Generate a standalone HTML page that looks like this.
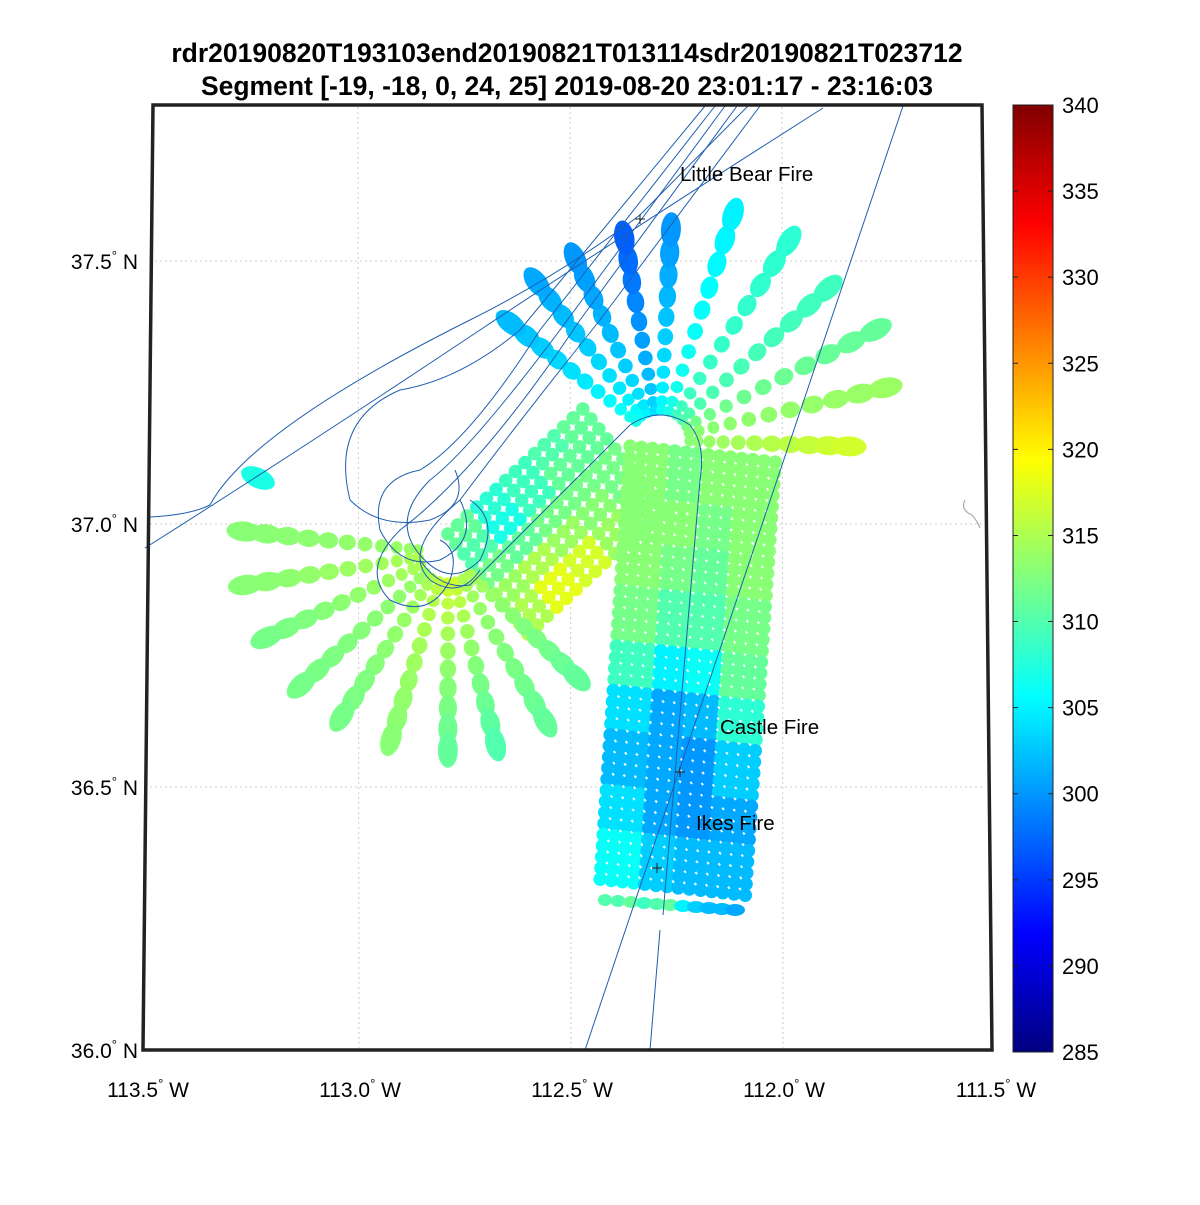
<!DOCTYPE html>
<html><head><meta charset="utf-8">
<style>
body{margin:0;background:#fff;font-family:"Liberation Sans",sans-serif;}
svg text{font-family:"Liberation Sans",sans-serif;}
</style></head>
<body>
<svg id="chart" width="1200" height="1200" viewBox="0 0 1200 1200" xmlns="http://www.w3.org/2000/svg">
<rect width="1200" height="1200" fill="#fff"/>
<text x="567" y="62" font-size="26.5" font-weight="bold" text-anchor="middle">rdr20190820T193103end20190821T013114sdr20190821T023712</text>
<text x="567" y="95" font-size="26.5" font-weight="bold" text-anchor="middle">Segment [-19, -18, 0, 24, 25] 2019-08-20 23:01:17 - 23:16:03</text>
<g id="grid"></g>
<g id="marks"></g>
<g id="tracks" fill="none" stroke="#1f5fae" stroke-width="1">
<path d="M823,108 Q 600,250 480,330 Q 300,450 145,548"/>
<path d="M748,106 L640,215 Q 560,275 470,320 Q 250,430 210,505 Q 190,515 150,517"/>
<path d="M705,106 L520,330 Q 460,380 400,390 Q 330,420 350,500 Q 380,530 430,520 Q 470,505 455,470"/>
<path d="M715,106 L540,330 Q 470,440 420,470 Q 370,480 380,530 Q 400,570 440,560 Q 480,540 460,500"/>
<path d="M725,106 L560,330 Q 470,450 430,480 Q 390,520 420,555 Q 450,590 480,560 Q 500,520 470,500"/>
<path d="M737,106 L580,320 Q 480,470 400,530 Q 360,570 390,600 Q 430,620 450,580 Q 460,550 440,540"/>
<path d="M760,106 L600,320 Q 520,420 460,500 Q 400,550 430,580 Q 460,600 480,570"/>
<path d="M420,560 Q 440,590 470,585 L630,425 Q 660,405 690,425 Q 706,445 700,480 L663,915"/>
<path d="M903,106 L585,1050"/>
<path d="M660,930 L650,1050"/>
</g>
<path d="M965,500 Q 960,510 972,515 Q 978,522 980,528" fill="none" stroke="#aaa" stroke-width="1.2"/>
<g stroke="#222" stroke-width="1">
<path d="M635,219h10M640,214v10"/>
<path d="M675,772h10M680,767v10"/>
<path d="M652,868h10M657,863v10"/>
</g>
<text x="680" y="181" font-size="20.5">Little Bear Fire</text>
<text x="720" y="734" font-size="20.5">Castle Fire</text>
<text x="696" y="830" font-size="20.5">Ikes Fire</text>
<polygon points="153,105 982,105 992,1050 143,1050" fill="none" stroke="#222" stroke-width="3.5"/>
<g id="axes"></g>
<defs><linearGradient id="jet" x1="0" y1="1" x2="0" y2="0">
<stop offset="0" stop-color="#000080"/><stop offset="0.125" stop-color="#0000ff"/><stop offset="0.375" stop-color="#00ffff"/><stop offset="0.625" stop-color="#ffff00"/><stop offset="0.875" stop-color="#ff0000"/><stop offset="1" stop-color="#800000"/>
</linearGradient></defs>
<rect x="1013" y="105" width="40" height="947" fill="url(#jet)" stroke="#222" stroke-width="1"/>
<g id="cbticks"></g>
</svg>
<script>
// ---- data ----
const latTicks = [36.0, 36.5, 37.0, 37.5];
const latLabels = ["36.0", "36.5", "37.0", "37.5"];
const lonTicks = [113.5, 113.0, 112.5, 112.0, 111.5];
const lonLabels = ["113.5", "113.0", "112.5", "112.0", "111.5"];
const cbTicks = [285, 290, 295, 300, 305, 310, 315, 320, 325, 330, 335, 340];
// fan scans: center lon/lat, ray angles (deg), ray lengths (deg lat), inner/outer temps
const fan1Center = [112.288, 37.160];
const fan1Angles = [142, 128, 115, 100, 87, 72, 57, 42, 27, 13, -2];
const fan1Lengths = [0.36, 0.38, 0.38, 0.39, 0.40, 0.45, 0.45, 0.43, 0.46, 0.44, 0.36];
const fan1Inner = [307, 306, 305, 304, 306, 307, 309, 310, 312, 313, 313];
const fan1Outer = [302, 301, 300, 297, 300, 305, 308, 309, 311, 314, 317];
const fan2Center = [112.788, 36.945];
const fan2Angles = [174, 189, 205, 222, 237, 253, 270, 284, 300, 316];
const fan2Lengths = [0.39, 0.39, 0.38, 0.375, 0.37, 0.37, 0.375, 0.375, 0.37, 0.34];
const fan2Inner = [314, 315, 315, 314, 315, 316, 317, 317, 315, 315];
const fan2Outer = [313, 313, 312, 312, 312, 313, 311, 310, 311, 311];
// grid scans (coarse temperature fields, rows x cols)
const grid1Temps = [
 [311,308,309,310,311],
 [310,307,309,311,311],
 [312,311,312,312,312],
 [314,315,314,313,312],
 [315,318,317,314,312]];
const grid2Temps = [
 [313,312,313,313],
 [313,313,312,313],
 [313,312,311,313],
 [312,310,310,312],
 [309,305,306,311],
 [304,301,302,308],
 [302,301,300,303],
 [304,301,300,301],
 [306,303,302,302]];
const bottomRowTemps = [310,310,311,309,310,311,305,303,302,302,301];
const isolatedTemp = [307];

// ---- scales ----
const X = lon => 570 + (112.5 - lon) * 424;
const Y = lat => 1050 - (lat - 36) * 526;
const PXDEG = 526;
function jet(t){
  const v = Math.max(0, Math.min(1, (t - 285) / 55));
  const c = x => Math.max(0, Math.min(1, 1.5 - Math.abs(4*v - x)));
  return `rgb(${Math.round(255*c(3))},${Math.round(255*c(2))},${Math.round(255*c(1))})`;
}
const NS = "http://www.w3.org/2000/svg";
const marks = document.getElementById('marks');
function ell(cx, cy, rx, ry, rot, temp, name){
  const e = document.createElementNS(NS, 'ellipse');
  e.setAttribute('cx', cx.toFixed(1)); e.setAttribute('cy', cy.toFixed(1));
  e.setAttribute('rx', rx.toFixed(1)); e.setAttribute('ry', ry.toFixed(1));
  e.setAttribute('transform', `rotate(${rot.toFixed(1)} ${cx.toFixed(1)} ${cy.toFixed(1)})`);
  e.setAttribute('fill', jet(temp));
  
  
  marks.appendChild(e);
}
// grids
function drawGrid(o, u, v, nu, nv, temps, r, name){
  const R = temps.length, C = temps[0].length;
  for (let j = 0; j < nv; j++) for (let i = 0; i < nu; i++){
    const a = i/(nu-1), b = j/(nv-1);
    const cx = o[0] + u[0]*a + v[0]*b, cy = o[1] + u[1]*a + v[1]*b;
    const t = temps[Math.min(R-1, Math.floor(b*R))][Math.min(C-1, Math.floor(a*C))];
    ell(cx, cy, r, r, 0, t, name);
  }
}
drawGrid([X(112.788), Y(36.981)], [135, -125], [80, 100], 15, 11, grid1Temps, 6.8, 'grid1-footprint');
drawGrid([X(112.358), Y(37.148)], [145, 16], [-30, 433], 14, 40, grid2Temps, 6.8, 'grid2-footprint');
bottomRowTemps.forEach((t, i) => {
  const a = i/(bottomRowTemps.length-1);
  ell(605 + 130*a, 900 + 10*a, 7 + 3*a, 6, 0, t, 'grid2-edge-footprint');
});
// fans
function drawFan(center, angles, lengths, inner, outer, name){
  const cx0 = X(center[0]), cy0 = Y(center[1]);
  angles.forEach((ang, k) => {
    const L = lengths[k] * PXDEG, rad = ang*Math.PI/180, n = 11;
    for (let s = 0; s < n; s++){
      const f = s/(n-1);
      const d = 30 + (L-30) * Math.pow(f, 1.3);
      const cx = cx0 + d*Math.cos(rad), cy = cy0 - d*Math.sin(rad);
      const t = inner[k] + (outer[k]-inner[k]) * f;
      ell(cx, cy, 5.5 + 12*f*f, 5.5 + 4.5*f, -ang, t, name);
    }
  });
}
drawFan(fan2Center, fan2Angles, fan2Lengths, fan2Inner, fan2Outer, 'fan2-footprint');
drawFan(fan1Center, fan1Angles, fan1Lengths, fan1Inner, fan1Outer, 'fan1-footprint');
ell(258, 478, 18, 10, 25, isolatedTemp[0], 'isolated-footprint');

// gridlines and axis labels
const grid = document.getElementById('grid'), axes = document.getElementById('axes');
latTicks.forEach((lat, i) => {
  if (i > 0){
    const l = document.createElementNS(NS, 'line');
    l.setAttribute('x1', 150); l.setAttribute('x2', 985);
    l.setAttribute('y1', Y(lat)); l.setAttribute('y2', Y(lat));
    l.setAttribute('stroke', '#ccc'); l.setAttribute('stroke-dasharray', '2,3');
    
    
    grid.appendChild(l);
  }
  const t = document.createElementNS(NS, 'text');
  t.setAttribute('x', 138); t.setAttribute('y', Y(lat) + 8);
  t.setAttribute('text-anchor', 'end'); t.setAttribute('font-size', '21');
  t.innerHTML = `${latLabels[i]}<tspan font-size="13" dy="-9">°</tspan><tspan dy="9"> N</tspan>`;
  
  
  axes.appendChild(t);
});
lonTicks.forEach((lon, i) => {
  if (i > 0 && i < lonTicks.length-1){
    const l = document.createElementNS(NS, 'line');
    l.setAttribute('x1', X(lon)); l.setAttribute('x2', X(lon) + 1);
    l.setAttribute('y1', 107); l.setAttribute('y2', 1048);
    l.setAttribute('stroke', '#ccc'); l.setAttribute('stroke-dasharray', '2,3');
    
    
    grid.appendChild(l);
  }
  const t = document.createElementNS(NS, 'text');
  t.setAttribute('x', X(lon) + 2); t.setAttribute('y', 1097);
  t.setAttribute('text-anchor', 'middle'); t.setAttribute('font-size', '21');
  t.innerHTML = `${lonLabels[i]}<tspan font-size="13" dy="-9">°</tspan><tspan dy="9"> W</tspan>`;
  
  
  axes.appendChild(t);
});
// colorbar ticks
const cb = document.getElementById('cbticks');
const cbY = v => 1052 - (v - 285) / 55 * 947;
cbTicks.forEach(v => {
  const l = document.createElementNS(NS, 'path');
  l.setAttribute('d', `M1013,${cbY(v)}h5M1053,${cbY(v)}h-5`);
  l.setAttribute('stroke', '#222');
  
  
  cb.appendChild(l);
  const t = document.createElementNS(NS, 'text');
  t.setAttribute('x', 1062); t.setAttribute('y', cbY(v) + 8);
  t.setAttribute('font-size', '22');
  t.textContent = v;
  
  
  cb.appendChild(t);
});
</script>
</body></html>
